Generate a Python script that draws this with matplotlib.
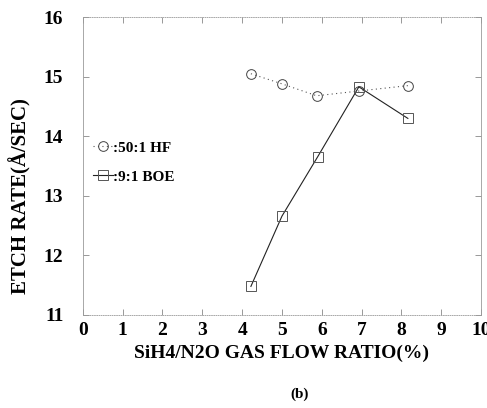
import matplotlib.pyplot as plt

# данные: скорость травления от отношения потоков SiH4/N2O
ratio_hf = [4.22, 5.0, 5.87, 6.93, 8.16]
rate_hf = [15.05, 14.88, 14.68, 14.76, 14.85]
ratio_boe = [4.22, 5.0, 5.9, 6.93, 8.16]
rate_boe = [11.48, 12.66, 13.66, 14.83, 14.3]

x_ticks = list(range(0, 11))
y_ticks = [11, 12, 13, 14, 15, 16]

plt.rcParams['font.family'] = ['Liberation Serif', 'DejaVu Serif']
plt.rcParams['font.weight'] = 'bold'

fig = plt.figure(figsize=(4.87, 4.08), dpi=100)
ax = fig.add_axes([0.17, 0.228, 0.818, 0.73])

ax.plot(ratio_hf, rate_hf, linestyle=(0, (1, 3)), color='#555555', linewidth=0.8,
        marker='o', markersize=7, markerfacecolor='none',
        markeredgecolor='#444444', markeredgewidth=0.7, label=':50:1 HF')
ax.plot(ratio_boe, rate_boe, linestyle='-', color='#222222', linewidth=0.8,
        marker='s', markersize=7, markerfacecolor='none',
        markeredgecolor='#555555', markeredgewidth=0.7, label=':9:1 BOE')

ax.set_xlim(0, 10)
ax.set_ylim(11, 16)
ax.set_xticks(x_ticks)
ax.set_yticks(y_ticks)
ax.tick_params(direction='in', top=True, right=True, length=4, width=0.6,
               color='#888888', labelsize=14)
ax.tick_params(axis='y', pad=14)
ax.tick_params(axis='x', pad=5)
for s in ax.spines.values():
    s.set_color('#9a9a9a')
    s.set_linewidth(0.6)
ax.spines['top'].set_linestyle(':')
ax.spines['bottom'].set_linestyle(':')

ax.set_xlabel('SiH4/N2O GAS FLOW RATIO(%)', fontsize=14, fontweight='bold', labelpad=4)
ax.set_ylabel('ETCH RATE(Å/SEC)', fontsize=15, fontweight='bold')
ax.yaxis.set_label_coords(-0.13, 0.40)

leg = ax.legend(loc='upper left', bbox_to_anchor=(0.0, 0.62), frameon=False,
                fontsize=11, handlelength=1.3, handletextpad=0.0,
                labelspacing=1.0, borderaxespad=0.3)

fig.text(0.616, 0.025, '(b)', ha='center', fontsize=11, fontweight='bold')

fig.savefig('out.png', dpi=100)
